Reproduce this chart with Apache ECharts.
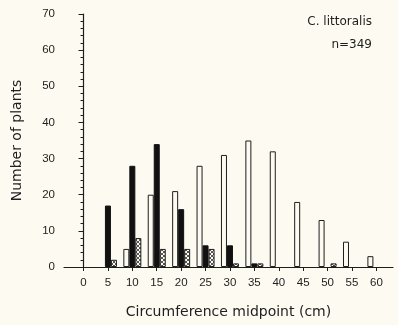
<!DOCTYPE html>
<html>
<head>
<meta charset="utf-8">
<script src="https://cdn.jsdelivr.net/npm/echarts@6/dist/echarts.min.js"></script>
<style>
  html, body { margin: 0; padding: 0; background: #fcfaf1; }
  #chart { width: 398px; height: 325px; }
</style>
</head>
<body>
<div id="chart"></div>
<script>
// circumference midpoints (cm)
const midpoints = [0, 5, 10, 15, 20, 25, 30, 35, 40, 45, 50, 55, 60]
// three groups of plants
const whiteBars = [0, 0, 5, 20, 21, 28, 31, 35, 32, 18, 13, 7, 3]
const blackBars = [0, 17, 28, 34, 16, 6, 6, 1, 0, 0, 0, 0, 0]
const hatchBars = [0, 2, 8, 5, 5, 5, 1, 1, 0, 0, 1, 0, 0]
const yTicks = [0, 10, 20, 30, 40, 50, 60, 70]

const ink = '#1e1e1e'
const paper = '#fcfaf1'
const tickFont = 'Liberation Sans'
const textFont = 'DejaVu Sans'

// small crosshatch tile for the patterned bars
const makeHatch = () => {
  const c = document.createElement('canvas')
  c.width = 4
  c.height = 4
  const ctx = c.getContext('2d')
  ctx.fillStyle = paper
  ctx.fillRect(0, 0, 4, 4)
  ctx.strokeStyle = '#444'
  ctx.lineWidth = 0.9
  ctx.beginPath()
  ctx.moveTo(0, 0); ctx.lineTo(4, 4)
  ctx.moveTo(4, 0); ctx.lineTo(0, 4)
  ctx.stroke()
  return c
}

// empty classes are left out so nothing is drawn on the baseline
const pairs = vals => midpoints.map((m, i) => (vals[i] > 0 ? [m, vals[i]] : [m, '-']))

const barBase = {
  type: 'bar',
  barWidth: 6,
  barGap: '0%',
  silent: true
}

const chart = echarts.init(document.getElementById('chart'))
chart.setOption({
  animation: false,
  backgroundColor: paper,
  grid: { left: 64, right: 5, top: 14, bottom: 58 },
  xAxis: {
    type: 'value',
    min: -4,
    max: 63.4,
    name: 'Circumference midpoint (cm)',
    nameLocation: 'middle',
    nameGap: 38,
    nameTextStyle: { fontFamily: textFont, fontSize: 14, color: ink },
    axisLine: { show: true, lineStyle: { color: ink, width: 1.2 } },
    axisTick: { show: true, length: 4, customValues: midpoints, lineStyle: { color: ink } },
    axisLabel: { customValues: midpoints, fontFamily: tickFont, fontSize: 11.5, color: ink, margin: 10 },
    splitLine: { show: false }
  },
  yAxis: {
    type: 'value',
    min: 0,
    max: 70,
    interval: 10,
    name: 'Number of plants',
    nameLocation: 'middle',
    nameGap: 40,
    nameTextStyle: { fontFamily: textFont, fontSize: 14, color: ink },
    axisLine: { show: true, lineStyle: { color: ink, width: 1.2 } },
    axisTick: { show: true, length: 5, lineStyle: { color: ink } },
    minorTick: { show: true, splitNumber: 5, length: 3, lineStyle: { color: ink } },
    axisLabel: {
      fontFamily: tickFont, fontSize: 11.5, color: ink, margin: 9,
      formatter: v => (yTicks.includes(v) ? String(v) : '')
    },
    splitLine: { show: false }
  },
  graphic: [
    { type: 'text', right: 26, top: 16, style: { text: 'C. littoralis', fontFamily: textFont, fontSize: 12, fill: ink } },
    { type: 'text', right: 26, top: 39, style: { text: 'n=349', fontFamily: textFont, fontSize: 12, fill: ink } }
  ],
  series: [
    {
      ...barBase,
      name: 'white',
      data: pairs(whiteBars),
      itemStyle: { color: paper, borderColor: ink, borderWidth: 1 }
    },
    {
      ...barBase,
      name: 'black',
      data: pairs(blackBars),
      itemStyle: { color: '#111', borderColor: '#111', borderWidth: 1 }
    },
    {
      ...barBase,
      name: 'hatched',
      data: pairs(hatchBars),
      itemStyle: { color: { image: makeHatch(), repeat: 'repeat' }, borderColor: ink, borderWidth: 1 }
    }
  ]
})
window.addEventListener('resize', () => chart.resize())
</script>
</body>
</html>
